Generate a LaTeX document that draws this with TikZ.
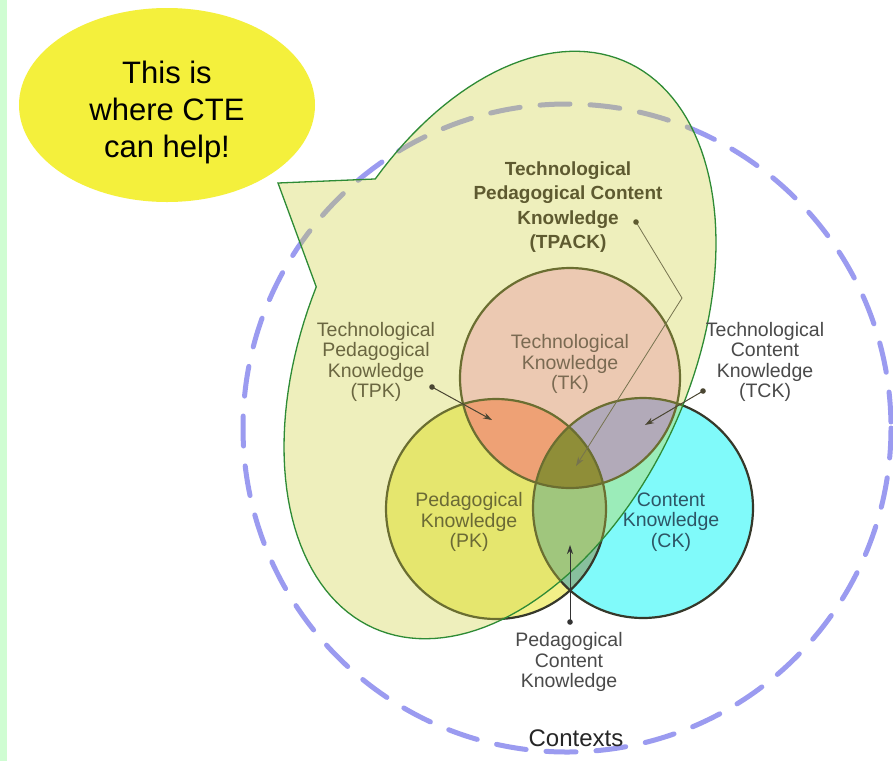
\documentclass[tikz,border=0pt]{standalone}
\usepackage{fontspec}
\setmainfont{Liberation Sans}
\usetikzlibrary{arrows.meta}
\definecolor{strip}{HTML}{CFFDD2}
\definecolor{bubble}{HTML}{F4F03C}
\definecolor{ctxdash}{HTML}{9B9BF0}
\definecolor{tkfill}{HTML}{FCC4F0}
\definecolor{pkfill}{HTML}{F2F088}
\definecolor{ckfill}{HTML}{80FAFA}
\definecolor{tpkfill}{HTML}{FF8792}
\definecolor{tckfill}{HTML}{A395FA}
\definecolor{pckfill}{HTML}{88C09E}
\definecolor{tpackfill}{HTML}{6E6A34}
\definecolor{vennline}{HTML}{36382A}
\definecolor{calloutfill}{RGB}{207,212,64}
\definecolor{calloutline}{HTML}{2E8B35}
\definecolor{olivetext}{HTML}{5E5A30}
\definecolor{tpktext}{HTML}{6A6640}
\definecolor{tktext}{HTML}{7A6A52}
\definecolor{pktext}{HTML}{6B6A35}
\definecolor{cktext}{HTML}{2D5565}
\definecolor{graytext}{HTML}{4A4A4A}
\definecolor{ptrcol}{HTML}{4A4632}
\begin{document}
\begin{tikzpicture}[x=1pt,y=-1pt]
                \tikzstyle{venn}=[draw=vennline, line width=2.2pt]
                \tikzstyle{lbl}=[align=center, inner sep=0pt, font=\fontsize{19.5}{20.5}\selectfont]
                \tikzstyle{ptr}=[draw=ptrcol, line width=1pt, -{Stealth[length=9pt,width=6pt]}]
                \useasboundingbox (0,0) rectangle (893,761);
                \fill [white] (0,0) rectangle (893,761);
                \fill [strip] (0,0) rectangle (7,761);
                \coordinate (tkc) at (570,378);
                \coordinate (pkc) at (496,509);
                \coordinate (ckc) at (643,508);
                \coordinate (ctx) at (567,428);
                \coordinate (tip) at (278,183);
                % speech bubble
                \fill [bubble] (167,105) ellipse [x radius=148, y radius=97];
                \node [align=center, inner sep=0pt, font=\fontsize{31}{37}\selectfont] (help) at (167,112) {This is\\where CTE\\can help!};
                % contexts
                \draw [ctxdash, line width=5pt, line cap=round, dash pattern=on 30pt off 20pt] (ctx) circle (324);
                % venn
                \fill [tkfill] (tkc) circle (110);
                \fill [pkfill] (pkc) circle (110);
                \fill [ckfill] (ckc) circle (110);
                \begin{scope}
                \clip (tkc) circle (110);
                \fill [tpkfill] (pkc) circle (110);
                \fill [tckfill] (ckc) circle (110);
                \end{scope}
                \begin{scope}
                \clip (pkc) circle (110);
                \fill [pckfill] (ckc) circle (110);
                \clip (ckc) circle (110);
                \fill [tpackfill] (tkc) circle (110);
                \end{scope}
                \draw [venn] (tkc) circle (110);
                \draw [venn] (pkc) circle (110);
                \draw [venn] (ckc) circle (110);
                % callout: tilted ellipse with a wedge
                \draw [calloutline, line width=1.3pt, fill=calloutfill, fill opacity=0.35] plot [domain=-71:266, samples=150, variable=\t] ({500 + 310*cos(\t)*0.4067 + 192*sin(\t)*0.9135}, {345 - 310*cos(\t)*0.9135 + 192*sin(\t)*0.4067}) -- (tip) -- cycle;
                % labels
                \node [lbl, font=\fontsize{19}{24.5}\selectfont\bfseries, text=olivetext] (tpack) at (568,207) {Technological\\Pedagogical Content\\Knowledge\\(TPACK)};
                \node [lbl, text=tpktext] (tpk) at (376,362) {Technological\\Pedagogical\\Knowledge\\(TPK)};
                \node [lbl, text=tktext] (tk) at (570,364) {Technological\\Knowledge\\(TK)};
                \node [lbl, text=graytext] (tck) at (765,362) {Technological\\Content\\Knowledge\\(TCK)};
                \node [lbl, text=pktext] (pk) at (469,522) {Pedagogical\\Knowledge\\(PK)};
                \node [lbl, text=cktext] (ck) at (671,522) {Content\\Knowledge\\(CK)};
                \node [lbl, text=graytext] (pck) at (569,662) {Pedagogical\\Content\\Knowledge};
                \node [inner sep=0pt, font=\fontsize{24}{28}\selectfont, text=black!85] (contexts) at (576,738) {Contexts};
                % pointers
                \coordinate (tpackdot) at (636,222);
                \coordinate (tpackbend) at (682,298);
                \coordinate (tpackend) at (576,466);
                \coordinate (tpkdot) at (432,387);
                \coordinate (tpkend) at (492,420);
                \coordinate (tckdot) at (703,391);
                \coordinate (tckend) at (645,425);
                \coordinate (pckdot) at (570,622);
                \coordinate (pckend) at (570,545);
                \draw [ptr, draw=olivetext!85, line width=0.8pt] (tpackdot) -- (tpackbend) -- (tpackend);
                \draw [ptr] (tpkdot) -- (tpkend);
                \draw [ptr] (tckdot) -- (tckend);
                \draw [ptr, draw=black!80] (pckdot) -- (pckend);
                \fill [olivetext] (tpackdot) circle (2.8);
                \fill [ptrcol] (tpkdot) circle (2.8);
                \fill [ptrcol] (tckdot) circle (2.8);
                \fill [black!80] (pckdot) circle (2.8);
\end{tikzpicture}
\end{document}
